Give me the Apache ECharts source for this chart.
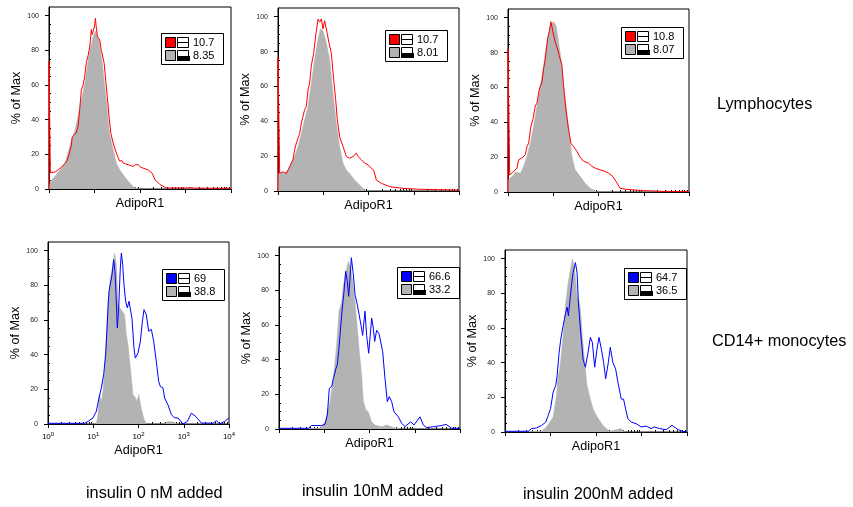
<!DOCTYPE html>
<html>
<head>
<meta charset="utf-8">
<script src="https://cdn.jsdelivr.net/npm/echarts@6/dist/echarts.min.js"></script>
<style>
  html, body { margin: 0; padding: 0; background: #fff; }
  #chart { width: 853px; height: 507px; }
</style>
</head>
<body>
<div id="chart"></div>
<script>
// AdipoR1 histograms, x in log10 fluorescence units (decades 10^0 .. 10^4), y in % of max.
// Each series is a list of [log10 intensity, % of Max] points.

const rowLabels = ['Lymphocytes', 'CD14+ monocytes'];
const columnLabels = ['insulin 0 nM added', 'insulin 10nM added', 'insulin 200nM added'];
const yTickValues = [0, 20, 40, 60, 80, 100];
const xDecades = [0, 1, 2, 3, 4];

// Gate statistics shown in each panel's key (stained / isotype control)
const stainedStats = ['10.7', '10.7', '10.8', '69', '66.6', '64.7'];
const controlStats = ['8.35', '8.01', '8.07', '38.8', '33.2', '36.5'];

// Lymphocytes, insulin 0 nM
const lymphIns0Stained = [[0,0],[0,73.6],[0.03,9.4],[0.1,9.6],[0.15,10],[0.2,11],[0.27,12.5],[0.34,14.5],[0.4,16.5],[0.44,20],[0.47,21],[0.49,25],[0.51,30],[0.55,31],[0.6,32.5],[0.64,36],[0.675,46],[0.71,57],[0.75,60],[0.785,65],[0.82,73],[0.86,77],[0.895,82],[0.93,92],[0.95,89],[0.97,90],[1.0,94],[1.02,98.5],[1.04,93],[1.064,88],[1.09,87],[1.115,86],[1.15,80],[1.21,73],[1.25,62],[1.28,53.5],[1.32,42],[1.36,32],[1.41,26.5],[1.48,20.8],[1.52,18],[1.556,16],[1.6,16.5],[1.63,15],[1.68,14.5],[1.74,14],[1.8,13.5],[1.85,13],[1.9,14],[1.96,14],[2.02,12.5],[2.07,12],[2.13,11.5],[2.18,11],[2.22,12],[2.27,9],[2.33,5.4],[2.44,2.5],[2.58,0.6],[3.0,0.6],[3.1,0.8],[3.2,0.5],[4,0.4]];
const lymphIns0Control = [[0,0],[0.01,2.5],[0.05,5],[0.12,7],[0.24,11],[0.35,15],[0.42,21],[0.49,28],[0.57,34],[0.64,42],[0.71,51.5],[0.79,61],[0.84,71],[0.9,80],[0.97,88],[1.02,91],[1.08,88],[1.13,80],[1.17,73],[1.22,61],[1.28,46],[1.33,32],[1.41,23],[1.48,15],[1.556,11],[1.665,7],[1.775,3.5],[1.85,1.5],[1.92,0.4],[1.99,0],[4,0]];

// Lymphocytes, insulin 10 nM
const lymphIns10Stained = [[0,0],[0,76.5],[0.037,10.2],[0.11,11],[0.184,10],[0.258,14],[0.33,18],[0.368,23.6],[0.405,27.5],[0.442,27.5],[0.479,33],[0.516,39],[0.552,38],[0.589,46.7],[0.626,48.6],[0.663,58],[0.7,62],[0.737,72],[0.788,79],[0.832,89],[0.884,98.7],[0.921,96.9],[0.958,98.7],[0.994,93],[1.031,97.7],[1.083,91],[1.127,85],[1.179,79],[1.23,64],[1.274,52.5],[1.311,41],[1.363,31],[1.436,25.6],[1.51,19.8],[1.584,18.8],[1.657,19.8],[1.731,21.7],[1.768,19.8],[1.842,18],[1.915,16],[1.989,15],[2.063,13],[2.115,12],[2.173,6.3],[2.284,4.4],[2.468,2.5],[2.763,1.5],[3.13,1],[4,0.5]];
const lymphIns10Control = [[0,0],[0.005,10],[0.06,10.5],[0.147,10],[0.221,12],[0.295,16],[0.368,20],[0.442,25.6],[0.516,33],[0.589,41],[0.663,48.6],[0.737,62],[0.81,75.6],[0.884,87],[0.936,93],[0.994,92],[1.068,85],[1.142,75.6],[1.216,56],[1.289,39],[1.363,25.6],[1.436,16],[1.51,12],[1.584,10],[1.694,6.3],[1.805,3.5],[1.878,1.5],[1.952,0],[4,0]];

// Lymphocytes, insulin 200 nM
const lymphIns200Stained = [[0,0],[0,82],[0.037,9.8],[0.125,11.8],[0.199,13.7],[0.235,18.5],[0.309,19.5],[0.382,21.4],[0.419,26],[0.456,28],[0.507,37.8],[0.551,41.7],[0.603,49.4],[0.64,51],[0.691,59],[0.75,63],[0.787,70.7],[0.824,76.4],[0.875,88],[0.912,92],[0.949,97.7],[0.971,98.6],[1.007,90],[1.044,86],[1.096,82],[1.132,78.4],[1.191,72.6],[1.228,61],[1.287,45.6],[1.338,36],[1.39,28],[1.449,26],[1.522,23.4],[1.581,20.5],[1.669,17.6],[1.779,16.6],[1.853,14.7],[1.926,13.7],[2.037,12.7],[2.147,11.8],[2.221,10.8],[2.316,8.9],[2.39,6],[2.478,2.1],[2.625,1.5],[2.993,0.8],[3.36,0.4],[4,0.2]];
const lymphIns200Control = [[0,0],[0.005,7],[0.037,7],[0.125,9.8],[0.162,11.5],[0.199,11.8],[0.272,10.8],[0.346,14.7],[0.419,20.5],[0.493,28],[0.566,37.8],[0.64,49.4],[0.713,61],[0.787,72.6],[0.86,86],[0.934,95.8],[1.007,97.7],[1.059,95.8],[1.118,86],[1.191,72.6],[1.243,57],[1.301,45.6],[1.36,32],[1.412,20.5],[1.485,12.7],[1.596,8.9],[1.706,5],[1.816,2.1],[1.89,1.2],[1.963,0],[4,0]];

// CD14+ monocytes, insulin 0 nM
const monoIns0Stained = [[0,0.4],[0.81,0.4],[0.884,1.5],[0.994,3.5],[1.068,7.3],[1.127,15],[1.179,20.8],[1.23,28.5],[1.274,40],[1.304,55],[1.326,67],[1.348,76.5],[1.385,77.5],[1.414,86],[1.451,94.8],[1.481,88],[1.51,70.8],[1.532,55.4],[1.562,67],[1.598,90],[1.621,98.6],[1.65,92],[1.68,80],[1.716,70.8],[1.753,67],[1.79,70.8],[1.82,70.8],[1.856,61],[1.9,43.8],[1.93,38],[1.989,41],[2.041,47.7],[2.085,59],[2.122,66],[2.173,63],[2.225,53.5],[2.284,54.6],[2.335,47.7],[2.394,36],[2.446,24.6],[2.482,21.7],[2.541,20.8],[2.578,15],[2.652,11],[2.726,5.4],[2.799,3.5],[2.873,3.5],[2.983,0],[3.079,1.5],[3.168,6.3],[3.263,4.4],[3.389,0.6],[3.646,0.4],[3.72,1.9],[3.794,0],[3.904,1.5],[4,3.5]];
const monoIns0Control = [[0,0],[1.068,0],[1.105,5.4],[1.127,17],[1.157,15],[1.179,13],[1.215,18.8],[1.252,32],[1.289,51.5],[1.326,70.8],[1.378,84],[1.422,90],[1.473,98.6],[1.51,92],[1.547,70.8],[1.584,67],[1.643,65],[1.694,63],[1.731,51.5],[1.768,46],[1.805,36],[1.842,26.5],[1.878,17],[1.937,15],[1.967,13],[2.004,17],[2.063,9],[2.114,3.5],[2.173,0],[2.578,0],[2.65,1.5],[2.76,1.2],[2.87,0],[4,0]];

// CD14+ monocytes, insulin 10 nM
const monoIns10Stained = [[0,0.4],[0.648,0.4],[0.722,2],[0.943,2],[1.017,2.7],[1.068,8],[1.112,23.5],[1.164,24.5],[1.2,29],[1.26,35],[1.289,37],[1.319,44.7],[1.348,54],[1.392,68],[1.436,79],[1.473,91],[1.51,85],[1.54,76.5],[1.569,87],[1.599,98.8],[1.643,89],[1.68,77.5],[1.731,71.7],[1.775,71.7],[1.812,60],[1.849,54],[1.9,68],[1.937,54],[1.982,43.7],[2.048,64],[2.085,58],[2.114,50.5],[2.158,57],[2.21,55],[2.247,54],[2.291,44.7],[2.343,29],[2.394,15.8],[2.438,18.7],[2.49,15.8],[2.541,10],[2.637,7],[2.711,3.3],[2.785,1.3],[2.91,4.2],[2.983,2.3],[3.116,7],[3.19,2.3],[3.263,0.8],[3.41,1.3],[3.595,2],[3.69,2.7],[3.816,0.4],[4,0.4]];
const monoIns10Control = [[0,0],[0.906,0.4],[1.017,4.2],[1.127,15.8],[1.2,29],[1.274,48.5],[1.326,68],[1.385,73.6],[1.422,83],[1.481,91],[1.532,96.7],[1.584,93],[1.628,85],[1.68,73.6],[1.731,58],[1.775,44.7],[1.827,31],[1.864,15.8],[1.923,11],[1.974,10],[2.048,4.2],[2.122,2.3],[2.158,3.3],[2.269,1.3],[2.379,2.3],[2.527,0.8],[2.674,0],[4,0]];

// CD14+ monocytes, insulin 200 nM
const monoIns200Stained = [[0,0.4],[0.511,0.4],[0.584,2],[0.693,2.3],[0.803,3.8],[0.898,5.7],[0.949,9.6],[1.0,13.4],[1.058,23],[1.117,27],[1.146,32.6],[1.19,46],[1.226,53.6],[1.277,61.3],[1.336,69],[1.365,72],[1.394,67],[1.423,74.7],[1.46,84.3],[1.496,92],[1.547,97.7],[1.584,92],[1.613,74.7],[1.657,59.4],[1.715,42],[1.766,37.4],[1.825,46],[1.876,54.6],[1.92,51.7],[1.971,37.4],[2.022,47.9],[2.066,54.6],[2.117,47.9],[2.168,40],[2.212,30.7],[2.27,40],[2.314,48.9],[2.372,40],[2.431,36.4],[2.482,28.7],[2.555,19],[2.606,19],[2.65,13.4],[2.701,7.7],[2.774,5.7],[2.883,4.8],[2.993,2.9],[3.102,3.4],[3.212,2],[3.285,2.9],[3.394,2],[3.54,1.3],[3.672,3.8],[3.796,1.5],[3.905,0.4],[4,0]];
const monoIns200Control = [[0,0],[0.803,0.4],[0.912,2.9],[1.058,8.6],[1.131,21],[1.168,32.6],[1.204,36.4],[1.277,55.5],[1.336,74.7],[1.387,86],[1.438,93.7],[1.482,100],[1.533,93.7],[1.584,78.5],[1.628,75.6],[1.657,71],[1.701,55.5],[1.752,40],[1.803,26.8],[1.876,19],[1.934,13.4],[2.007,9.6],[2.08,6.7],[2.153,3.8],[2.226,2],[2.299,0.4],[2.555,2],[2.628,0],[4,0]];

const RED = '#ff0000';
const BLUE = '#0000ff';
const GRAY = '#b3b3b3';
const FONT = '"Liberation Sans", Arial, Helvetica, sans-serif';

const panels = [
  { stained: lymphIns0Stained,   control: lymphIns0Control,   color: RED },
  { stained: lymphIns10Stained,  control: lymphIns10Control,  color: RED },
  { stained: lymphIns200Stained, control: lymphIns200Control, color: RED },
  { stained: monoIns0Stained,    control: monoIns0Control,    color: BLUE },
  { stained: monoIns10Stained,   control: monoIns10Control,   color: BLUE },
  { stained: monoIns200Stained,  control: monoIns200Control,  color: BLUE }
];

// Plot frames and key-box positions (pixels)
const layout = [
  { left: 49,  top: 7,   width: 182, height: 182, key: [161, 33] },
  { left: 278, top: 8,   width: 181, height: 183, key: [385, 30] },
  { left: 508, top: 9,   width: 181, height: 183, key: [621, 27] },
  { left: 48,  top: 242, width: 181, height: 182, key: [162, 269] },
  { left: 279, top: 247, width: 181, height: 182, key: [397, 267] },
  { left: 505, top: 250, width: 182, height: 182, key: [624, 268] }
];
const labelledXAxis = 3;

// Minor ticks at 2..9 within each decade, and every 5 % on the y axis
const minorX = [];
for (let d = 0; d < 4; d++) for (let m = 2; m <= 9; m++) minorX.push(d + Math.log10(m));
const minorY = [];
for (let v = 5; v < 105; v += 5) if (v % 20 !== 0) minorY.push(v);

const grids = [], xAxes = [], yAxes = [], series = [], graphics = [];

layout.forEach((g, i) => {
  grids.push({
    left: g.left, top: g.top, width: g.width, height: g.height,
    show: true, borderColor: '#000', borderWidth: 1, backgroundColor: 'transparent',
    containLabel: false, outerBoundsMode: 'none'
  });
});

layout.forEach((g, i) => {
  const labelled = i === labelledXAxis;
  xAxes.push({
    gridIndex: i, type: 'value', min: 0, max: 4, interval: 1,
    name: 'AdipoR1', nameLocation: 'middle', nameGap: labelled ? 20 : 8,
    nameTextStyle: { fontFamily: FONT, fontSize: 12.6, color: '#000' },
    axisLine: { show: true, onZero: false, lineStyle: { color: '#000', width: 1 } },
    axisTick: { show: true, inside: false, length: 4, lineStyle: { color: '#000', width: 1 } },
    axisLabel: {
      show: labelled, margin: 7, showMinLabel: true, showMaxLabel: true,
      formatter: v => '{b|10}{s|' + v + '}',
      rich: {
        b: { fontFamily: FONT, fontSize: 8, color: '#000', lineHeight: 12 },
        s: { fontFamily: FONT, fontSize: 6, color: '#000', lineHeight: 4, verticalAlign: 'top' }
      }
    },
    splitLine: { show: false }
  });
});
layout.forEach((g, i) => {
  xAxes.push({
    gridIndex: i, type: 'value', min: 0, max: 4,
    axisLine: { show: false },
    axisTick: { show: true, inside: false, length: 2, customValues: minorX, lineStyle: { color: '#000', width: 1 } },
    axisLabel: { show: false },
    splitLine: { show: false }
  });
});

layout.forEach((g, i) => {
  yAxes.push({
    gridIndex: i, type: 'value', min: 0, max: 105,
    name: '% of Max', nameLocation: 'middle', nameGap: 20,
    nameTextStyle: { fontFamily: FONT, fontSize: 12.6, color: '#000' },
    axisLine: { show: true, onZero: false, lineStyle: { color: '#000', width: 1 } },
    axisTick: { show: true, inside: false, length: 4, customValues: yTickValues, lineStyle: { color: '#000', width: 1 } },
    axisLabel: { show: true, margin: 10, customValues: yTickValues, fontFamily: FONT, fontSize: 7, color: '#222' },
    splitLine: { show: false }
  });
});
layout.forEach((g, i) => {
  yAxes.push({
    gridIndex: i, type: 'value', min: 0, max: 105,
    axisLine: { show: false },
    axisTick: { show: true, inside: false, length: 2, customValues: minorY, lineStyle: { color: '#000', width: 1 } },
    axisLabel: { show: false },
    splitLine: { show: false }
  });
});

panels.forEach((p, i) => {
  series.push({
    type: 'line', xAxisIndex: i, yAxisIndex: i, data: p.control,
    symbol: 'none', silent: true, z: 2,
    lineStyle: { color: GRAY, width: 0.5 },
    areaStyle: { color: GRAY, opacity: 1 }
  });
  series.push({
    type: 'line', xAxisIndex: i, yAxisIndex: i, data: p.stained,
    symbol: 'none', silent: true, z: 3, clip: false,
    lineStyle: { color: p.color, width: 1 }
  });
});

// Key box: colour swatch + gate glyph + statistic, for stained and control
function keyBox(x, y, color, stainedText, controlText) {
  const txt = (t, ty) => ({
    type: 'text', x: 32, y: ty,
    style: { text: t, fontFamily: FONT, fontSize: 11, fill: '#000', align: 'left', verticalAlign: 'middle' }
  });
  return {
    type: 'group', x: x, y: y, silent: true, z: 10,
    children: [
      { type: 'rect', shape: { x: 0.5, y: 0.5, width: 62, height: 31 }, style: { fill: '#fff', stroke: '#000', lineWidth: 1 } },
      { type: 'rect', shape: { x: 4.5, y: 4.5, width: 10, height: 10 }, style: { fill: color, stroke: '#000', lineWidth: 1 } },
      { type: 'rect', shape: { x: 16.5, y: 4.5, width: 11, height: 10 }, style: { fill: '#fff', stroke: '#000', lineWidth: 1 } },
      { type: 'line', shape: { x1: 16.5, y1: 9.5, x2: 27.5, y2: 9.5 }, style: { stroke: '#000', lineWidth: 1 } },
      txt(stainedText, 10),
      { type: 'rect', shape: { x: 4.5, y: 17.5, width: 10, height: 10 }, style: { fill: GRAY, stroke: '#000', lineWidth: 1 } },
      { type: 'rect', shape: { x: 16.5, y: 17.5, width: 11, height: 10 }, style: { fill: '#fff', stroke: '#000', lineWidth: 1 } },
      { type: 'rect', shape: { x: 16, y: 23, width: 13, height: 5 }, style: { fill: '#000' } },
      txt(controlText, 23)
    ]
  };
}

panels.forEach((p, i) => {
  graphics.push(keyBox(layout[i].key[0], layout[i].key[1], p.color, stainedStats[i], controlStats[i]));
});

function label(text, x, y) {
  return {
    type: 'text', x: x, y: y, silent: true,
    style: { text: text, fontFamily: FONT, fontSize: 16.3, fill: '#000', align: 'left', verticalAlign: 'middle' }
  };
}
graphics.push(label(rowLabels[0], 717, 105));
graphics.push(label(rowLabels[1], 712, 342));
graphics.push(label(columnLabels[0], 86, 494));
graphics.push(label(columnLabels[1], 302, 492));
graphics.push(label(columnLabels[2], 523, 495));

const chart = echarts.init(document.getElementById('chart'), null, { renderer: 'canvas' });
chart.setOption({
  animation: false,
  backgroundColor: '#fff',
  grid: grids,
  xAxis: xAxes,
  yAxis: yAxes,
  series: series,
  graphic: graphics
});
</script>
</body>
</html>
